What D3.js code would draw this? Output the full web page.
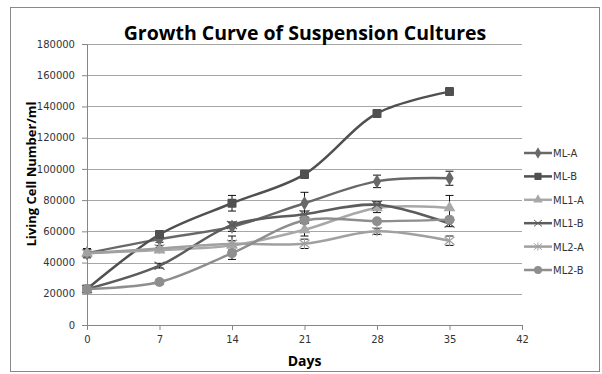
<!DOCTYPE html>
<html>
<head>
<meta charset="utf-8">
<script src="https://cdn.jsdelivr.net/npm/d3@7"></script>
<style>
  body { margin: 0; background: #fff; }
  text { font-family: "DejaVu Sans", sans-serif; }
  .title, .axis-title { font-family: "Open Sans", "Noto Sans", sans-serif; font-weight: bold; fill: #000; }
</style>
</head>
<body>
<div id="chart"></div>
<script>
const svgWidth = 602;
const svgHeight = 374;

const margin = { top: 44, right: 80, bottom: 49, left: 87 };
const width = 522 - margin.left;
const height = 325 - margin.top;

// data
const days = [0, 7, 14, 21, 28, 35];
const seriesNames = ["ML-A", "ML-B", "ML1-A", "ML1-B", "ML2-A", "ML2-B"];
const mlA = [46000, 55000, 63000, 78000, 92000, 94000];
const mlB = [23000, 58000, 78000, 96500, 135500, 149500];
const ml1A = [46000, 48000, 51000, 61000, 75000, 75000];
const ml1B = [23000, 38000, 64000, 71000, 77000, 65000];
const ml2A = [46000, 49000, 52000, 52000, 60000, 54000];
const ml2B = [23000, 27500, 46000, 67000, 66500, 67500];
const errA = [3000, 2000, 3000, 7000, 4000, 4500];
const errB = [1500, 2000, 5000, 2500, 1500, 2000];
const err1A = [2000, 1500, 3000, 4000, 3000, 8000];
const err1B = [1500, 1500, 1500, 2000, 2000, 2000];
const err2A = [2000, 2000, 5000, 3000, 2000, 3000];
const err2B = [1500, 1500, 4000, 2000, 1500, 1500];
const xTicks = [0, 7, 14, 21, 28, 35, 42];
const yTicks = [0, 20000, 40000, 60000, 80000, 100000, 120000, 140000, 160000, 180000];

const series = [
  { name: seriesNames[0], values: mlA, err: errA, color: "#686868", marker: "diamond" },
  { name: seriesNames[1], values: mlB, err: errB, color: "#505050", marker: "square" },
  { name: seriesNames[2], values: ml1A, err: err1A, color: "#a8a8a8", marker: "triangle" },
  { name: seriesNames[3], values: ml1B, err: err1B, color: "#5c5c5c", marker: "x" },
  { name: seriesNames[4], values: ml2A, err: err2A, color: "#a0a0a0", marker: "star" },
  { name: seriesNames[5], values: ml2B, err: err2B, color: "#8e8e8e", marker: "circle" }
];

const svg = d3.select("#chart").append("svg")
  .attr("width", svgWidth)
  .attr("height", svgHeight);

svg.append("rect")
  .attr("x", 10.5).attr("y", 7.5)
  .attr("width", 589).attr("height", 364)
  .attr("fill", "#fff").attr("stroke", "#888");

const g = svg.append("g")
  .attr("transform", `translate(${margin.left}, ${margin.top})`);

const x = d3.scaleLinear().domain([0, 42]).range([0, width]);
const y = d3.scaleLinear().domain([0, 180000]).range([height, 0]);

// gridlines
g.append("g").selectAll("line")
  .data(yTicks.slice(1))
  .join("line")
  .attr("x1", 0).attr("x2", width)
  .attr("y1", d => Math.round(y(d)) + 0.5).attr("y2", d => Math.round(y(d)) + 0.5)
  .attr("stroke", "#a6a6a6");

const xAxis = g.append("g")
  .attr("transform", `translate(0, ${height})`)
  .call(d3.axisBottom(x).tickValues(xTicks).tickFormat(d3.format("d")).tickSize(5).tickPadding(6));
const yAxis = g.append("g")
  .call(d3.axisLeft(y).tickValues(yTicks).tickFormat(d3.format("d")).tickSize(5).tickPadding(7));

[xAxis, yAxis].forEach(a => {
  a.select(".domain").attr("stroke", "#868686");
  a.selectAll(".tick line").attr("stroke", "#868686");
  a.selectAll(".tick text").attr("fill", "#333").style("font-size", "10px");
});

// error bars
series.forEach(s => {
  const eg = g.append("g");
  days.forEach((d, i) => {
    const cx = x(d);
    const top = y(s.values[i] + s.err[i]);
    const bot = y(s.values[i] - s.err[i]);
    eg.append("line").attr("x1", cx).attr("x2", cx).attr("y1", top).attr("y2", bot)
      .attr("stroke", "#111").attr("stroke-width", 1);
    [top, bot].forEach(yy => {
      eg.append("line").attr("x1", cx - 4).attr("x2", cx + 4).attr("y1", yy).attr("y2", yy)
        .attr("stroke", "#111").attr("stroke-width", 1);
    });
  });
});

const line = d3.line()
  .x((d, i) => x(days[i]))
  .y(d => y(d))
  .curve(d3.curveCatmullRom.alpha(0.5));

function drawMarker(sel, type, color) {
  if (type === "diamond") {
    sel.append("path").attr("d", d3.symbol(d3.symbolDiamond, 60)()).attr("fill", color);
  } else if (type === "square") {
    sel.append("rect").attr("x", -4.5).attr("y", -4.5).attr("width", 9).attr("height", 9)
      .attr("rx", 1).attr("fill", color);
  } else if (type === "triangle") {
    sel.append("path").attr("d", d3.symbol(d3.symbolTriangle, 60)()).attr("fill", color);
  } else if (type === "x") {
    sel.append("path").attr("d", "M-5,-4L5,4M-5,4L5,-4").attr("stroke", color).attr("stroke-width", 1.2);
  } else if (type === "star") {
    sel.append("path").attr("d", "M-5,-4L5,4M-5,4L5,-4M0,-5V5").attr("stroke", color).attr("stroke-width", 1.2);
  } else {
    sel.append("circle").attr("r", 5).attr("fill", color);
  }
}

series.forEach(s => {
  g.append("path")
    .datum(s.values)
    .attr("d", line)
    .attr("fill", "none")
    .attr("stroke", s.color)
    .attr("stroke-width", 2.5);
  s.values.forEach((v, i) => {
    const m = g.append("g").attr("transform", `translate(${x(days[i])}, ${y(v)})`);
    drawMarker(m, s.marker, s.color);
  });
});

// titles
svg.append("text")
  .attr("class", "title")
  .attr("x", 305).attr("y", 40)
  .attr("text-anchor", "middle")
  .style("font-size", "19.5px")
  .text("Growth Curve of Suspension Cultures");

svg.append("text")
  .attr("class", "axis-title")
  .attr("transform", "rotate(-90)")
  .attr("x", -174).attr("y", 36)
  .attr("text-anchor", "middle")
  .style("font-size", "13px")
  .text("Living Cell Number/ml");

svg.append("text")
  .attr("class", "axis-title")
  .attr("x", margin.left + width / 2).attr("y", 366)
  .attr("text-anchor", "middle")
  .style("font-size", "14px")
  .text("Days");

// legend
const legend = svg.append("g").attr("transform", "translate(524, 153)");
series.forEach((s, i) => {
  const row = legend.append("g").attr("transform", `translate(0, ${i * 23.4})`);
  row.append("line").attr("x1", 0).attr("x2", 28).attr("y1", 0).attr("y2", 0)
    .attr("stroke", s.color).attr("stroke-width", 2.5);
  const m = row.append("g").attr("transform", "translate(14, 0) scale(0.8)");
  drawMarker(m, s.marker, s.color);
  row.append("text").attr("x", 29).attr("y", 4)
    .style("font-size", "10px").attr("fill", "#333")
    .text(s.name);
});
</script>
</body>
</html>
